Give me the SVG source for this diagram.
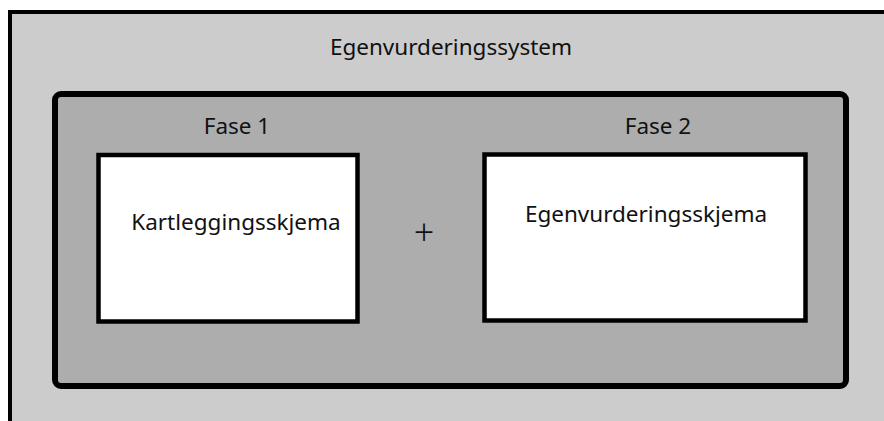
<svg xmlns="http://www.w3.org/2000/svg" width="884" height="421" viewBox="0 0 884 421">
<style>
text{font-family:"Noto Sans","Open Sans",sans-serif;fill:#111;font-size:22.5px}
.box{fill:#fff;stroke:#000;stroke-width:4.5}
.plus{font-size:36px;font-weight:300}
</style>
<rect width="884" height="421" fill="#fff"/>
<g id="system">
<rect x="10" y="12" width="900" height="430" fill="#cccccc" stroke="#000" stroke-width="4"/>
<text x="451" y="55" text-anchor="middle">Egenvurderingssystem</text>
</g>
<g id="container">
<rect x="55" y="94" width="791" height="292" rx="6" fill="#adadad" stroke="#000" stroke-width="6"/>
</g>
<g id="fase1">
<text x="237" y="134" text-anchor="middle">Fase 1</text>
<rect class="box" x="98.5" y="155" width="259" height="166.5"/>
<text x="236" y="230" text-anchor="middle">Kartleggingsskjema</text>
</g>
<g id="fase2">
<text x="658" y="134" text-anchor="middle">Fase 2</text>
<rect class="box" x="484.5" y="154.5" width="321" height="166"/>
<text x="646" y="222" text-anchor="middle">Egenvurderingsskjema</text>
</g>
<g id="connectors">
<text class="plus" x="424" y="245" text-anchor="middle">+</text>
</g>
</svg>
